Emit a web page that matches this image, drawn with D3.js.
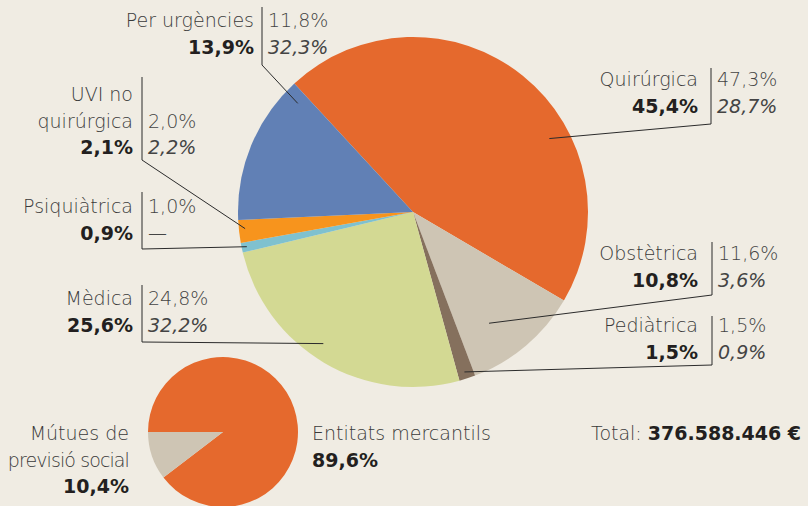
<!DOCTYPE html>
<html>
<head>
<meta charset="utf-8">
<script src="https://cdn.jsdelivr.net/npm/d3@7"></script>
<style>
  html, body { margin: 0; padding: 0; background: #f0ece3; }
  svg { display: block; }
  text { font-family: "DejaVu Sans", sans-serif; }
  .lab { font-weight: 200; fill: #3a3a3a; }
  .big { font-weight: bold; fill: #231f20; }
  .val { font-weight: 200; fill: #444; }
  .it { font-style: italic; }
</style>
</head>
<body>
<svg id="chart" width="808" height="506"></svg>
<script>
// main pie: share of spending by hospital activity
const categories = ["Quirúrgica", "Obstètrica", "Pediàtrica", "Mèdica", "Psiquiàtrica", "UVI no quirúrgica", "Per urgències"];
const shares = [45.4, 10.8, 1.5, 25.6, 0.9, 2.1, 13.9];
const sharesLabel = ["45,4%", "10,8%", "1,5%", "25,6%", "0,9%", "2,1%", "13,9%"];
const colA = ["47,3%", "11,6%", "1,5%", "24,8%", "1,0%", "2,0%", "11,8%"];
const colB = ["28,7%", "3,6%", "0,9%", "32,2%", "—", "2,2%", "32,3%"];
const colors = ["#e5692d", "#cec5b4", "#85705d", "#d3d993", "#7fc1cf", "#f7941d", "#6180b5"];

// small pie: type of entity
const entities = ["Entitats mercantils", "Mútues de previsió social"];
const entityShares = [89.6, 10.4];
const entityLabel = ["89,6%", "10,4%"];
const entityColors = ["#e5692d", "#cec5b4"];

const totalLabel = "376.588.446 €";

const svg = d3.select("#chart");
const fs = 19, lh = 26.5;

// ---- main pie
const cx = 413, cy = 212, R = 175;
const pie = d3.pie().sort(null)
  .startAngle(-42.7 * Math.PI / 180)
  .endAngle(-42.7 * Math.PI / 180 + 2 * Math.PI);
const arcs = pie(shares);
const arc = d3.arc().innerRadius(0).outerRadius(R);

const g = svg.append("g").attr("transform", `translate(${cx},${cy})`);
g.selectAll("path").data(arcs).enter().append("path")
  .attr("d", arc)
  .attr("fill", (d, i) => colors[i]);

// label layout: right edge of name text, first baseline, name lines,
// elbow x and bottom of leader, point inside slice (t along angle, r fraction)
const layout = [
  { i: 0, x: 698, y: 86, name: ["Quirúrgica"], lx: 711, top: 68, bot: 124, t: 0.64, rf: 0.885 },
  { i: 1, x: 698, y: 260, name: ["Obstètrica"], lx: 712, top: 242, bot: 295, t: 0.65, rf: 0.77 },
  { i: 2, x: 698, y: 332, name: ["Pediàtrica"], lx: 712, top: 316, bot: 365, t: 0.55, rf: 0.96 },
  { i: 3, x: 133, y: 305, name: ["Mèdica"], lx: 142, top: 285, bot: 342, t: 0.54, rf: 0.91 },
  { i: 4, x: 133, y: 213, name: ["Psiquiàtrica"], lx: 142, top: 192, bot: 249, t: 0.5, rf: 0.97 },
  { i: 5, x: 133, y: 101, name: ["UVI no", "quirúrgica"], lx: 142, top: 77, bot: 160, t: 0.6, rf: 0.964 },
  { i: 6, x: 254, y: 27, name: ["Per urgències"], lx: 262, top: 7, bot: 65, t: 0.92, rf: 0.905 }
];

const leader = d3.line();
layout.forEach(L => {
  const a = arcs[L.i];
  const ang = a.startAngle + L.t * (a.endAngle - a.startAngle);
  const px = cx + Math.sin(ang) * R * L.rf;
  const py = cy - Math.cos(ang) * R * L.rf;
  svg.append("path")
    .attr("d", leader([[L.lx, L.top], [L.lx, L.bot], [px, py]]))
    .attr("fill", "none").attr("stroke", "#2b2b2b").attr("stroke-width", 1);

  const n = L.name.length;
  L.name.forEach((s, k) => {
    svg.append("text").attr("class", "lab")
      .attr("x", L.x).attr("y", L.y + k * lh)
      .attr("text-anchor", "end").attr("font-size", fs).text(s);
  });
  svg.append("text").attr("class", "big")
    .attr("x", L.x).attr("y", L.y + n * lh)
    .attr("text-anchor", "end").attr("font-size", fs).text(sharesLabel[L.i]);

  const vx = L.lx + 6;
  svg.append("text").attr("class", "val")
    .attr("x", vx).attr("y", L.y + (n - 1) * lh)
    .attr("font-size", fs).text(colA[L.i]);
  svg.append("text").attr("class", "val" + (colB[L.i] === "—" ? "" : " it"))
    .attr("x", vx).attr("y", L.y + n * lh)
    .attr("font-size", fs).text(colB[L.i]);
});

// ---- small pie
const scx = 223, scy = 432, sR = 75;
const spie = d3.pie().sort(null)
  .startAngle(-Math.PI / 2).endAngle(1.5 * Math.PI);
const sg = svg.append("g").attr("transform", `translate(${scx},${scy})`);
sg.selectAll("path").data(spie(entityShares)).enter().append("path")
  .attr("d", d3.arc().innerRadius(0).outerRadius(sR))
  .attr("fill", (d, i) => entityColors[i]);

svg.append("text").attr("class", "lab").attr("x", 312).attr("y", 440)
  .attr("font-size", fs).text(entities[0]);
svg.append("text").attr("class", "big").attr("x", 312).attr("y", 440 + lh)
  .attr("font-size", fs).text(entityLabel[0]);

// the long left label is a bit tighter so it stays inside the frame
const left = ["Mútues de", "previsió social"];
left.forEach((s, k) => {
  svg.append("text").attr("class", "lab").attr("x", 129).attr("y", 440 + k * lh)
    .attr("text-anchor", "end").attr("font-size", fs)
    .attr("letter-spacing", k === 1 ? -0.9 : 0).text(s);
});
svg.append("text").attr("class", "big").attr("x", 129).attr("y", 440 + 2 * lh)
  .attr("text-anchor", "end").attr("font-size", fs).text(entityLabel[1]);

// total
const tot = svg.append("text").attr("x", 591).attr("y", 440).attr("font-size", fs);
tot.append("tspan").attr("class", "lab").text("Total: ");
tot.append("tspan").attr("class", "big").text(totalLabel);
</script>
</body>
</html>
